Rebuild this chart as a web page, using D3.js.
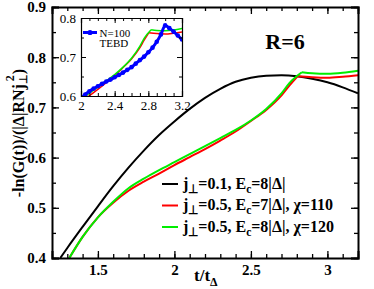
<!DOCTYPE html>
<meta charset="utf-8">
<style>
    body { margin: 0; background: #fff; }
</style>
<svg width="374" height="289" font-family="Liberation Serif"></svg>
<script src="https://d3js.org/d3.v7.min.js"></script>
<script>
    // j_perp = 0.1, Ec = 8|D|
    var tBlack = [1.254, 1.3, 1.4, 1.5, 1.6, 1.7, 1.8, 1.9, 2.0, 2.1, 2.2, 2.3, 2.4, 2.5, 2.6, 2.7, 2.8, 2.9, 3.0, 3.1, 3.2];
    var gBlack = [0.400, 0.420, 0.462, 0.503, 0.543, 0.580, 0.614, 0.645, 0.672, 0.697, 0.719, 0.737, 0.751, 0.759, 0.763, 0.764, 0.762, 0.757, 0.750, 0.740, 0.728];

    // j_perp = 0.5, Ec = 7|D|, chi = 110  (kink at 2.805)
    var tRed = [1.313, 1.4, 1.5, 1.6, 1.7, 1.8, 1.9, 2.0, 2.1, 2.2, 2.3, 2.4, 2.5, 2.6, 2.7, 2.75, 2.805, 2.9, 3.0, 3.1, 3.2];
    var gRed = [0.400, 0.442, 0.481, 0.510, 0.534, 0.552, 0.568, 0.585, 0.601, 0.617, 0.634, 0.652, 0.673, 0.695, 0.724, 0.743, 0.762, 0.760, 0.759, 0.761, 0.764];

    // j_perp = 0.5, Ec = 8|D|, chi = 120  (kink at 2.833)
    var tGreen = [1.313, 1.4, 1.5, 1.6, 1.7, 1.8, 1.9, 2.0, 2.1, 2.2, 2.3, 2.4, 2.5, 2.6, 2.7, 2.75, 2.833, 2.9, 3.0, 3.1, 3.2];
    var gGreen = [0.400, 0.442, 0.481, 0.512, 0.539, 0.558, 0.575, 0.591, 0.607, 0.623, 0.639, 0.655, 0.674, 0.697, 0.728, 0.748, 0.770, 0.768, 0.767, 0.769, 0.773];

    // TEBD, N = 100 (inset only)
    var tBlue = [2.0, 2.05, 2.1, 2.15, 2.2, 2.25, 2.3, 2.35, 2.4, 2.45, 2.5, 2.55, 2.6, 2.65, 2.7, 2.75, 2.8, 2.85, 2.9, 2.95, 3.0, 3.05, 3.1, 3.15, 3.2];
    var gBlue = [0.594, 0.604, 0.612, 0.619, 0.625, 0.631, 0.637, 0.642, 0.648, 0.654, 0.660, 0.667, 0.674, 0.683, 0.692, 0.701, 0.712, 0.724, 0.739, 0.758, 0.781, 0.774, 0.765, 0.755, 0.745];

    var xMajor = [1.5, 2, 2.5, 3];
    var xMinor = d3.range(12, 33).map(function (d) { return d / 10; });
    var yMajor = [0.4, 0.5, 0.6, 0.7, 0.8, 0.9];
    var yMinor = d3.range(8, 19).map(function (d) { return d / 20; });

    var insetXMajor = [2, 2.4, 2.8, 3.2];
    var insetXMinor = d3.range(20, 33).map(function (d) { return d / 10; });
    var insetYMajor = [0.6, 0.7, 0.8];
    var insetYMinor = d3.range(12, 17).map(function (d) { return d / 20; });

    // text pieces: [text, 0 = normal, 1 = subscript]
    var legendLabels = [
        [["j", 0], ["\u22a5", 1], ["=0.1, E", 0], ["c", 1], ["=8|\u0394|", 0]],
        [["j", 0], ["\u22a5", 1], ["=0.5, E", 0], ["c", 1], ["=7|\u0394|, \u03c7=110", 0]],
        [["j", 0], ["\u22a5", 1], ["=0.5, E", 0], ["c", 1], ["=8|\u0394|, \u03c7=120", 0]]
    ];
    var legendColors = ["#000000", "#ff0000", "#00ee00"];

    var FONT = "Liberation Serif";
    var svg = d3.select("svg");

    var x = d3.scaleLinear().domain([1.2, 3.2]).range([52, 358]),
        y = d3.scaleLinear().domain([0.4, 0.9]).range([258, 7]);

    function rows(ts, vs) {
        return ts.map(function (t, i) { return [t, vs[i]]; });
    }

    // smooth pieces on both sides of a kink
    function pieces(ts, vs, kinkT) {
        var k = ts.indexOf(kinkT), all = rows(ts, vs);
        return [all.slice(0, k + 1), all.slice(k)];
    }

    function drawFrame(g, xs, ys, o) {
        var r = xs.range(), h = ys.range();
        var axes = [
            [d3.axisBottom(xs), "translate(0," + h[0] + ")", o.xMajor, o.xMinor, true],
            [d3.axisTop(xs), "translate(0," + h[1] + ")", o.xMajor, o.xMinor, false],
            [d3.axisLeft(ys), "translate(" + r[0] + ",0)", o.yMajor, o.yMinor, true],
            [d3.axisRight(ys), "translate(" + r[1] + ",0)", o.yMajor, o.yMinor, false]
        ];
        axes.forEach(function (a) {
            var minor = g.append("g").attr("transform", a[1])
                .call(a[0].tickValues(a[3]).tickSize(-o.minorLen).tickFormat(""));
            minor.select(".domain").remove();
            minor.selectAll("line").attr("stroke-width", o.tickW);

            var major = g.append("g").attr("transform", a[1])
                .call(a[0].tickValues(a[2]).tickSize(-o.majorLen).tickPadding(o.pad)
                    .tickFormat(a[4] ? o.fmt : ""));
            major.attr("font-family", FONT);
            major.select(".domain").attr("stroke-width", o.frameW);
            major.selectAll("line").attr("stroke-width", o.tickW);
            major.selectAll("text")
                .attr("font-family", FONT)
                .attr("font-size", o.fontSize)
                .attr("font-weight", o.bold ? "bold" : "normal")
                .attr("fill", "#000");
        });
    }

    // ---- main plot ----
    var defs = svg.append("defs");
    defs.append("clipPath").attr("id", "clipMain")
        .append("rect").attr("x", 52).attr("y", 7).attr("width", 306).attr("height", 251);

    var line = d3.line()
        .x(function (d) { return x(d[0]); })
        .y(function (d) { return y(d[1]); })
        .curve(d3.curveMonotoneX);

    var curves = svg.append("g").attr("clip-path", "url(#clipMain)");
    curves.append("path").datum(rows(tBlack, gBlack))
        .attr("fill", "none").attr("stroke", "#000").attr("stroke-width", 2)
        .attr("d", line);
    curves.selectAll(".red").data(pieces(tRed, gRed, 2.805)).enter().append("path")
        .attr("fill", "none").attr("stroke", "#ff0000").attr("stroke-width", 2)
        .attr("d", line);
    curves.selectAll(".green").data(pieces(tGreen, gGreen, 2.833)).enter().append("path")
        .attr("fill", "none").attr("stroke", "#00ee00").attr("stroke-width", 2)
        .attr("d", line);

    drawFrame(svg.append("g"), x, y, {
        xMajor: xMajor, xMinor: xMinor, yMajor: yMajor, yMinor: yMinor,
        majorLen: 7, minorLen: 4, pad: 6, frameW: 2, tickW: 1.3,
        fontSize: 15, bold: true, fmt: d3.format("")
    });

    // axis titles
    var yt = svg.append("text")
        .attr("transform", "translate(24,133) rotate(-90)")
        .attr("text-anchor", "middle").attr("font-family", FONT)
        .attr("font-size", 16).attr("font-weight", "bold");
    yt.append("tspan").text("-ln(G(t))/(|\u0394|RNj");
    yt.append("tspan").attr("font-size", 11).attr("dy", 3).text("\u22a5");
    yt.append("tspan").attr("font-size", 12).attr("dx", -7).attr("dy", -13).text("2");
    yt.append("tspan").attr("dx", 1).attr("dy", 10).text(")");

    var xt = svg.append("text")
        .attr("x", 194).attr("y", 281)
        .attr("font-family", FONT)
        .attr("font-size", 17).attr("font-weight", "bold");
    xt.append("tspan").text("t/t");
    xt.append("tspan").attr("font-size", 12).attr("dy", 5).text("\u0394");

    svg.append("text")
        .attr("x", 285).attr("y", 48.5)
        .attr("text-anchor", "middle").attr("font-family", FONT)
        .attr("font-size", 22).attr("font-weight", "bold")
        .text("R=6");

    // legend
    var leg = svg.append("g").selectAll("g")
        .data(legendLabels)
        .enter().append("g")
        .attr("transform", function (d, i) { return "translate(0," + (184 + i * 21.5) + ")"; });
    leg.append("line")
        .attr("x1", 162).attr("x2", 178)
        .attr("stroke", function (d, i) { return legendColors[i]; })
        .attr("stroke-width", 2);
    leg.each(function (parts) {
        var txt = d3.select(this).append("text")
            .attr("x", 183).attr("y", 4.5).attr("font-family", FONT)
            .attr("font-size", 16).attr("font-weight", "bold");
        var shifted = 0;
        parts.forEach(function (p) {
            var ts = txt.append("tspan").text(p[0]);
            if (p[1] === 1) {
                ts.attr("font-size", 11.5).attr("dy", 4);
                shifted = 4;
            }
            else if (shifted) {
                ts.attr("dy", -shifted);
                shifted = 0;
            }
        });
    });

    // ---- inset ----
    var ix = d3.scaleLinear().domain([2, 3.2]).range([81, 182]),
        iy = d3.scaleLinear().domain([0.6, 0.8]).range([96, 18]);

    var inset = svg.append("g");
    inset.append("rect")
        .attr("x", 81).attr("y", 18).attr("width", 101).attr("height", 78)
        .attr("fill", "#fff");

    defs.append("clipPath").attr("id", "clipInset")
        .append("rect").attr("x", 81).attr("y", 18).attr("width", 101).attr("height", 78);

    var iline = d3.line()
        .x(function (d) { return ix(d[0]); })
        .y(function (d) { return iy(d[1]); })
        .curve(d3.curveMonotoneX);

    var ic = inset.append("g").attr("clip-path", "url(#clipInset)");
    ic.selectAll(".red").data(pieces(tRed, gRed, 2.805)).enter().append("path")
        .attr("fill", "none").attr("stroke", "#ff0000").attr("stroke-width", 1.5)
        .attr("d", iline);
    ic.selectAll(".green").data(pieces(tGreen, gGreen, 2.833)).enter().append("path")
        .attr("fill", "none").attr("stroke", "#00ee00").attr("stroke-width", 1.5)
        .attr("d", iline);
    ic.append("path").datum(rows(tBlue, gBlue))
        .attr("fill", "none").attr("stroke", "#0000ff").attr("stroke-width", 3)
        .attr("d", iline);
    ic.selectAll("circle").data(rows(tBlue, gBlue))
        .enter().append("circle")
        .attr("cx", function (d) { return ix(d[0]); })
        .attr("cy", function (d) { return iy(d[1]); })
        .attr("r", 2.3).attr("fill", "#0000ff");

    drawFrame(inset.append("g"), ix, iy, {
        xMajor: insetXMajor, xMinor: insetXMinor, yMajor: insetYMajor, yMinor: insetYMinor,
        majorLen: 5, minorLen: 3, pad: 5, frameW: 1.2, tickW: 1,
        fontSize: 13, bold: false, fmt: d3.format("")
    });

    // inset legend
    inset.append("line")
        .attr("x1", 83).attr("x2", 97).attr("y1", 32.5).attr("y2", 32.5)
        .attr("stroke", "#0000ff").attr("stroke-width", 3);
    inset.append("circle")
        .attr("cx", 90).attr("cy", 32.5).attr("r", 2.6).attr("fill", "#0000ff");
    inset.append("text").attr("x", 99.5).attr("y", 36.5).attr("font-family", FONT)
        .attr("font-size", 11).text("N=100");
    inset.append("text").attr("x", 99.5).attr("y", 47).attr("font-family", FONT)
        .attr("font-size", 11).text("TEBD");
</script>
